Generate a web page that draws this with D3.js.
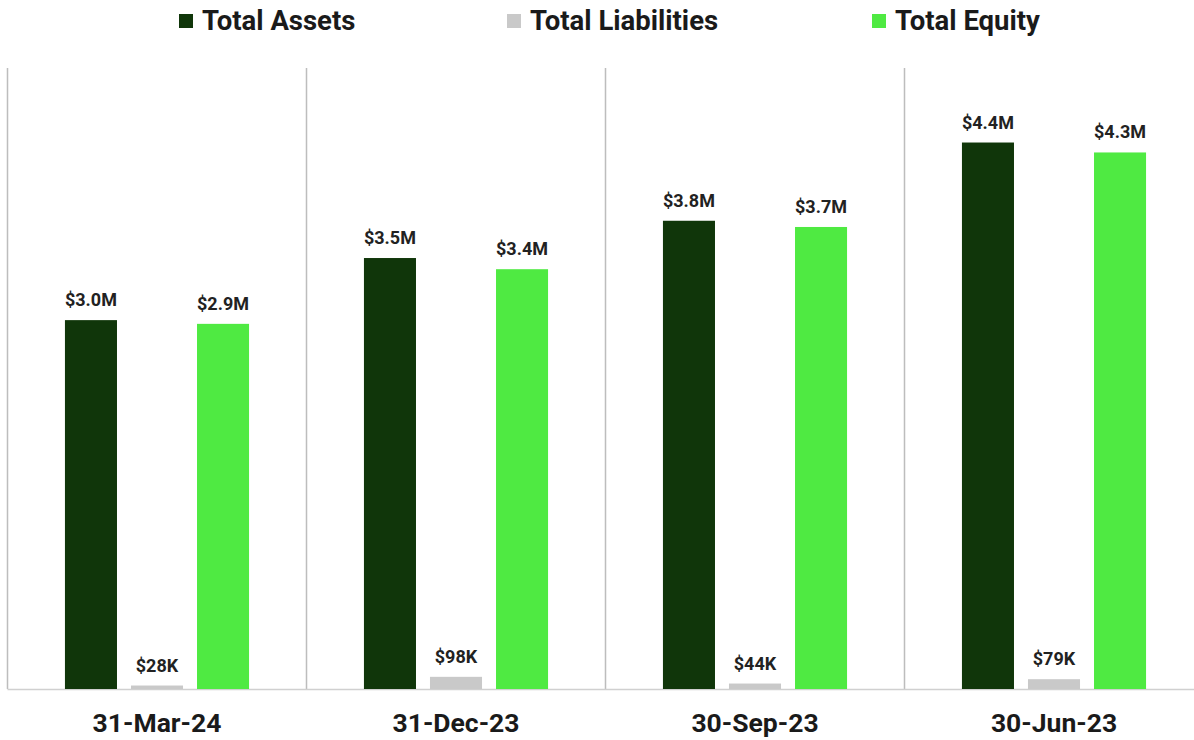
<!DOCTYPE html>
<html>
<head>
<meta charset="utf-8">
<script src="https://cdn.jsdelivr.net/npm/d3@7"></script>
<style>
  body { margin: 0; background: #fff; }
  svg { display: block; font-family: Roboto, "Noto Sans", sans-serif; }
</style>
</head>
<body>
<div id="chart"></div>
<script>
var periods = ["31-Mar-24", "31-Dec-23", "30-Sep-23", "30-Jun-23"];
var seriesNames = ["Total Assets", "Total Liabilities", "Total Equity"];
var totalAssets = [2970000, 3470000, 3770000, 4400000];
var totalLiabilities = [28000, 98000, 44000, 79000];
var totalEquity = [2940000, 3380000, 3720000, 4320000];
var assetLabels = ["$3.0M", "$3.5M", "$3.8M", "$4.4M"];
var liabilityLabels = ["$28K", "$98K", "$44K", "$79K"];
var equityLabels = ["$2.9M", "$3.4M", "$3.7M", "$4.3M"];

var colors = { "Total Assets": "#10360a", "Total Liabilities": "#c9c9c9", "Total Equity": "#4fea42" };

var W = 1194, H = 740;
var plotTop = 68, plotBottom = 689, plotLeft = 7.5, groupW = 299;

var svg = d3.select("#chart")
    .append("svg")
    .attr("width", W)
    .attr("height", H);

var data = periods.map(function (p, i) {
    return {
        period: p,
        values: [
            { key: "Total Assets", v: totalAssets[i], label: assetLabels[i] },
            { key: "Total Liabilities", v: totalLiabilities[i], label: liabilityLabels[i] },
            { key: "Total Equity", v: totalEquity[i], label: equityLabels[i] }
        ]
    };
});

var x0 = d3.scaleBand()
    .domain(periods)
    .range([plotLeft, plotLeft + groupW * periods.length])
    .padding(0);

var x1 = d3.scaleBand()
    .domain(seriesNames)
    .range([0, x0.bandwidth()])
    .paddingInner(0.212)
    .paddingOuter(0.87);

var y = d3.scaleLinear()
    .domain([0, 5000000])
    .range([plotBottom, plotTop]);

// group separators
svg.append("g")
    .selectAll("line")
    .data(periods)
    .join("line")
    .attr("x1", function (d) { return x0(d); })
    .attr("x2", function (d) { return x0(d); })
    .attr("y1", plotTop)
    .attr("y2", plotBottom)
    .attr("stroke", "#bdbdbd")
    .attr("stroke-width", 1.5);

// baseline
svg.append("line")
    .attr("x1", plotLeft)
    .attr("x2", W)
    .attr("y1", plotBottom + 0.5)
    .attr("y2", plotBottom + 0.5)
    .attr("stroke", "#d0d0d0")
    .attr("stroke-width", 1.5);

var groups = svg.append("g")
    .selectAll("g")
    .data(data)
    .join("g")
    .attr("transform", function (d) { return "translate(" + x0(d.period) + ",0)"; });

groups.selectAll("rect")
    .data(function (d) { return d.values; })
    .join("rect")
    .attr("x", function (d) { return x1(d.key); })
    .attr("width", x1.bandwidth())
    .attr("y", function (d) { return y(d.v); })
    .attr("height", function (d) { return y(0) - y(d.v); })
    .attr("fill", function (d) { return colors[d.key]; });

groups.selectAll("text.val")
    .data(function (d) { return d.values; })
    .join("text")
    .attr("class", "val")
    .attr("x", function (d) { return x1(d.key) + x1.bandwidth() / 2; })
    .attr("y", function (d) { return y(d.v) - 14; })
    .attr("text-anchor", "middle")
    .attr("fill", "#222")
    .attr("font-weight", "bold")
    .style("font-size", "18px")
    .text(function (d) { return d.label; });

// category axis labels
svg.append("g")
    .selectAll("text")
    .data(periods)
    .join("text")
    .attr("x", function (d) { return x0(d) + x0.bandwidth() / 2; })
    .attr("y", 732)
    .attr("text-anchor", "middle")
    .attr("fill", "#1a1a1a")
    .attr("font-weight", "bold")
    .style("font-size", "26.5px")
    .text(function (d) { return d; });

// legend
var legendX = [179, 507, 872];
var legend = svg.append("g")
    .selectAll("g")
    .data(seriesNames)
    .join("g")
    .attr("transform", function (d, i) { return "translate(" + legendX[i] + ",14)"; });

legend.append("rect")
    .attr("width", 14)
    .attr("height", 14)
    .attr("fill", function (d) { return colors[d]; });

legend.append("text")
    .attr("x", 23)
    .attr("y", 16)
    .attr("fill", "#1a1a1a")
    .attr("font-weight", "bold")
    .style("font-size", "27.5px")
    .text(function (d) { return d; });
</script>
</body>
</html>
